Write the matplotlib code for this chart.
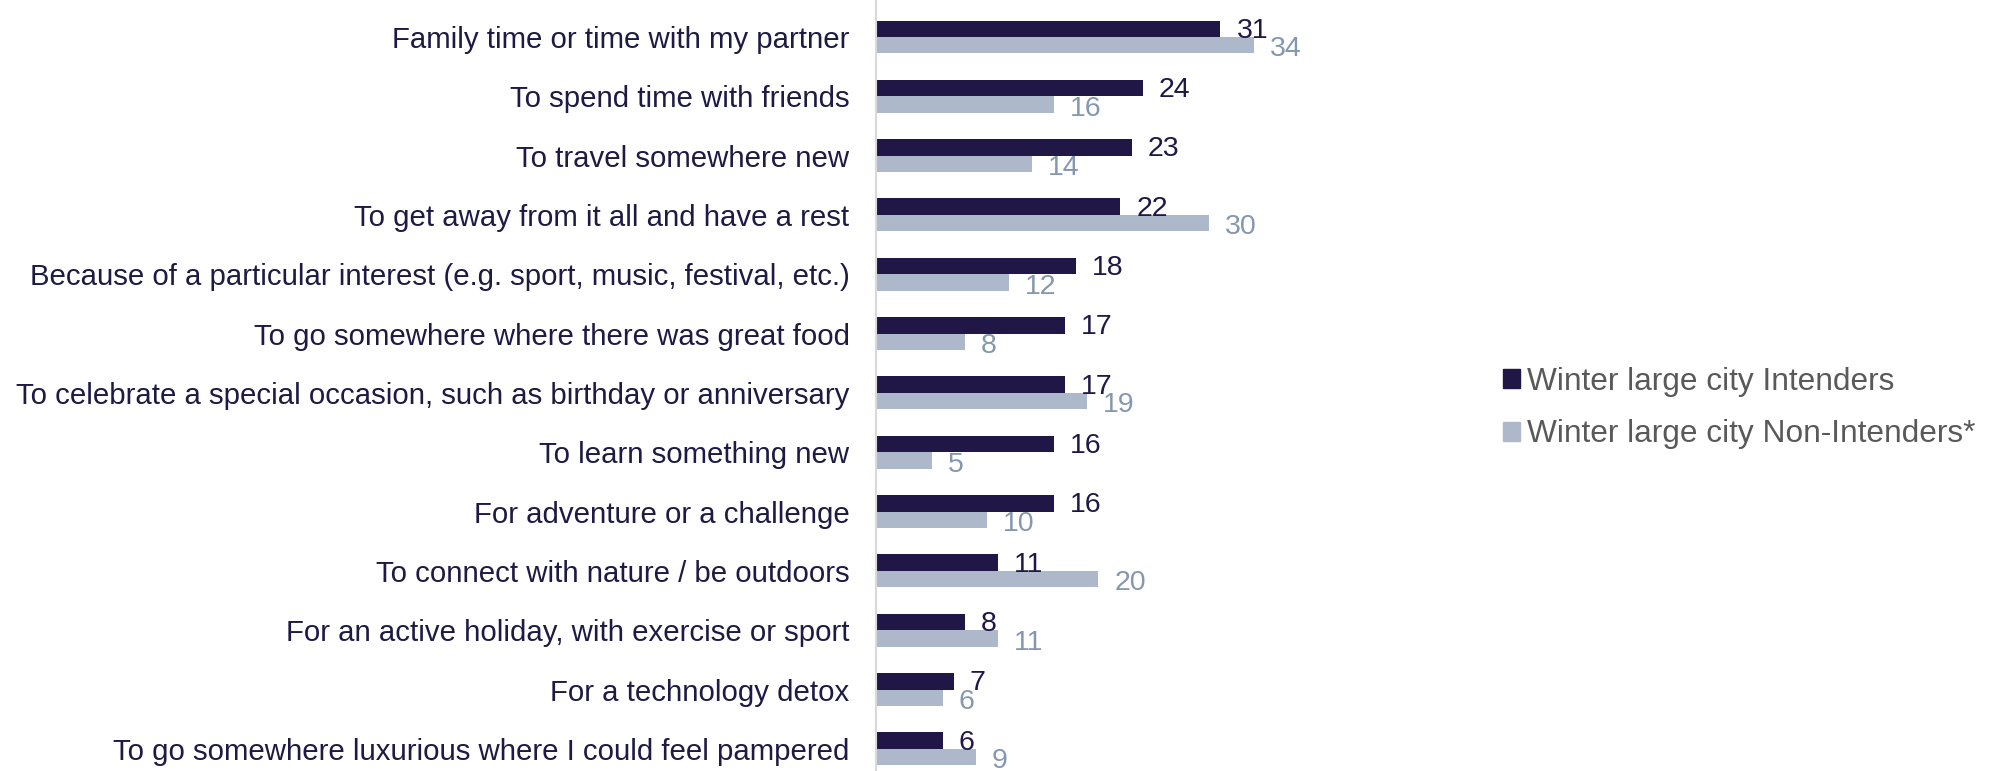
import matplotlib
matplotlib.use("Agg")
import matplotlib.pyplot as plt
from matplotlib.patches import Rectangle
import numpy as np

categories = [
    "Family time or time with my partner",
    "To spend time with friends",
    "To travel somewhere new",
    "To get away from it all and have a rest",
    "Because of a particular interest (e.g. sport, music, festival, etc.)",
    "To go somewhere where there was great food",
    "To celebrate a special occasion, such as birthday or anniversary",
    "To learn something new",
    "For adventure or a challenge",
    "To connect with nature / be outdoors",
    "For an active holiday, with exercise or sport",
    "For a technology detox",
    "To go somewhere luxurious where I could feel pampered",
]
intenders = [31, 24, 23, 22, 18, 17, 17, 16, 16, 11, 8, 7, 6]
non_intenders = [34, 16, 14, 30, 12, 8, 19, 5, 10, 20, 11, 6, 9]
series_names = ["Winter large city Intenders", "Winter large city Non-Intenders*"]

DARK = "#201747"
LIGHT = "#ADB9CA"
LIGHT_TXT = "#8497B0"
CAT_TXT = "#1F1A44"
LEG_TXT = "#595959"

plt.rcParams['font.family'] = ['Liberation Sans', 'DejaVu Sans']

W, H = 1993, 771
fig = plt.figure(figsize=(W / 100, H / 100), dpi=100)
ax_left = 876 / W
xmax = 45
ax_w = xmax * 11.11 / W
ax = fig.add_axes([ax_left, 0, ax_w, 1])

n = len(categories)
y = np.arange(n)
bh = 0.278
ax.barh(y - bh / 2, intenders, height=bh, color=DARK)
ax.barh(y + bh / 2, non_intenders, height=bh, color=LIGHT)

sp = 59.33
top = -37 / sp
bottom = (H - 37) / sp
ax.set_ylim(bottom, top)
ax.set_xlim(0, xmax)

off_pts = 16 * 72 / 100
for i in range(n):
    ax.annotate(str(intenders[i]), (intenders[i], y[i] - bh / 2), xytext=(off_pts, -1.5),
                textcoords="offset points", va="center", ha="left", fontsize=20.5, color=DARK)
    ax.annotate(str(non_intenders[i]), (non_intenders[i], y[i] + bh / 2), xytext=(off_pts, -3),
                textcoords="offset points", va="center", ha="left", fontsize=20.5, color=LIGHT_TXT)

ax.set_yticks(y)
ax.set_yticklabels(categories, fontsize=21.2, color=CAT_TXT)
ax.tick_params(axis="y", length=0, pad=19)
ax.set_xticks([])
for s in ["top", "right", "bottom"]:
    ax.spines[s].set_visible(False)
ax.spines["left"].set_color("#D9D9D9")
ax.spines["left"].set_linewidth(1.5)

handles = [Rectangle((0, 0), 1, 1, color=DARK), Rectangle((0, 0), 1, 1, color=LIGHT)]
leg = fig.legend(handles, series_names, loc="center left",
                 bbox_to_anchor=(1503 / W, 1 - 408 / H), frameon=False,
                 fontsize=22.8, handlelength=0.55, handleheight=0.55, handletextpad=0.2,
                 labelspacing=0.72, borderpad=0, borderaxespad=0)
for t in leg.get_texts():
    t.set_color(LEG_TXT)

fig.savefig("out.png", dpi=100)
